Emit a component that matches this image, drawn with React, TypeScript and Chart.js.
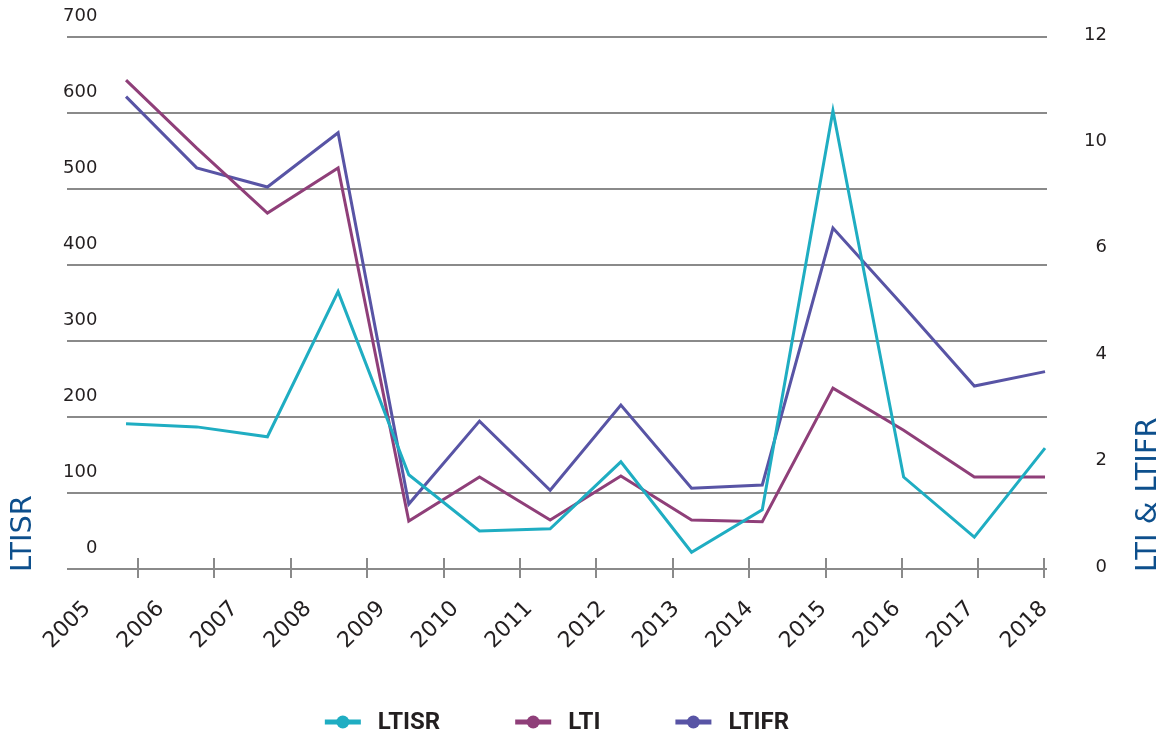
import React, { useEffect, useRef } from "react";
import { Chart, registerables } from "chart.js";

Chart.register(...registerables);

// ---- data ----
const years = ["2005", "2006", "2007", "2008", "2009", "2010", "2011", "2012", "2013", "2014", "2015", "2016", "2017", "2018"];
const ltisr = [191, 187, 174, 365, 124, 50, 53, 141, 22, 78, 603, 121, 42, 159];
const lti = [9.19, 7.91, 6.69, 7.54, 0.9, 1.73, 0.92, 1.75, 0.92, 0.89, 3.4, 2.61, 1.73, 1.73];
const ltifr = [8.88, 7.54, 7.18, 8.2, 1.22, 2.78, 1.48, 3.08, 1.52, 1.58, 6.41, 4.94, 3.44, 3.71];
const rightTickLabels = ["0", "2", "4", "6", "10", "12"];
const axisTickMarks = [1, 2, 3, 4, 5, 6, 7, 8, 9, 10, 11, 12, 12.86];
const leftTitle = "LTISR";
const rightTitle = "LTI & LTIFR";

const C_LTISR = "#1fadc2";
const C_LTI = "#8f3f79";
const C_LTIFR = "#5854a5";
const GRID = "#8a8a8a";
const TEXT = "#231f20";
const TITLE = "#0d4f8c";

const fitTo = (size: number) => (s: any) => {
  if (s.isHorizontal()) s.height = size;
  else s.width = size;
  s.paddingTop = 0;
  s.paddingBottom = 0;
  s.paddingLeft = 0;
  s.paddingRight = 0;
};

const decorPlugin = {
  id: "decor",
  beforeDatasetsDraw(chart: any) {
    const ctx = chart.ctx;
    const sc = chart.scales.xTicks;
    const base = chart.chartArea.bottom;
    ctx.save();
    ctx.strokeStyle = GRID;
    ctx.lineWidth = 2;
    sc.ticks.forEach((t: any) => {
      const x = Math.round(sc.getPixelForValue(t.value));
      ctx.beginPath();
      ctx.moveTo(x, base - 11);
      ctx.lineTo(x, base + 9);
      ctx.stroke();
    });
    ctx.restore();
  },
  afterDraw(chart: any) {
    const ctx = chart.ctx;
    const area = chart.chartArea;
    ctx.save();
    // axis titles, reading bottom to top
    ctx.font = "29px 'DejaVu Sans'";
    ctx.fillStyle = TITLE;
    ctx.textBaseline = "middle";
    ctx.textAlign = "left";
    [[23, leftTitle], [1148, rightTitle]].forEach(([x, t]: any) => {
      ctx.save();
      ctx.translate(x, area.bottom + 3);
      ctx.rotate(-Math.PI / 2);
      ctx.fillText(t, 0, 0);
      ctx.restore();
    });
    // legend
    const ds = chart.data.datasets;
    ctx.font = "bold 24px Roboto";
    const markerW = 36;
    const gapText = 17;
    const gapItem = 75;
    const widths = ds.map((d: any) => markerW + gapText + ctx.measureText(d.label).width);
    const total = widths.reduce((a: number, b: number) => a + b, 0) + gapItem * (ds.length - 1);
    let x = (area.left + area.right) / 2 - total / 2;
    const y = 722;
    ds.forEach((d: any, i: number) => {
      ctx.strokeStyle = d.borderColor;
      ctx.fillStyle = d.borderColor;
      ctx.lineWidth = 5;
      ctx.beginPath();
      ctx.moveTo(x, y);
      ctx.lineTo(x + markerW, y);
      ctx.stroke();
      ctx.beginPath();
      ctx.arc(x + markerW / 2, y, 6.5, 0, Math.PI * 2);
      ctx.fill();
      ctx.fillStyle = TEXT;
      ctx.textAlign = "left";
      ctx.textBaseline = "middle";
      ctx.fillText(d.label, x + markerW + gapText, y + 1);
      x += widths[i] + gapItem;
    });
    ctx.restore();
  },
};

export default function App() {
  const ref = useRef<HTMLCanvasElement>(null);
  useEffect(() => {
    if (!ref.current) return;
    const pts = (arr: number[]) => arr.map((v, i) => ({ x: i, y: v }));
    const lineDs = (label: string, data: number[], color: string, yAxisID: string) => ({
      label,
      data: pts(data),
      borderColor: color,
      backgroundColor: color,
      borderWidth: 3,
      pointRadius: 0,
      tension: 0,
      xAxisID: "x",
      yAxisID,
    });
    const chart = new Chart(ref.current, {
      type: "line",
      data: {
        datasets: [
          lineDs("LTISR", ltisr, C_LTISR, "y"),
          lineDs("LTI", lti, C_LTI, "y1"),
          lineDs("LTIFR", ltifr, C_LTIFR, "y1"),
        ],
      },
      options: {
        animation: false,
        responsive: false,
        devicePixelRatio: 1,
        layout: { padding: { left: 67, right: 59, top: 37, bottom: 0 } },
        plugins: { legend: { display: false }, tooltip: { enabled: false } },
        scales: {
          x: {
            type: "linear",
            display: false,
            min: -0.835,
            max: 13.028,
            afterFit: fitTo(0),
          },
          xTicks: {
            type: "linear",
            position: "bottom",
            min: 0.0707,
            max: 12.898,
            afterBuildTicks: (s: any) => {
              s.ticks = axisTickMarks.map((v) => ({ value: v }));
            },
            grid: { display: false },
            border: { display: false },
            ticks: { display: false },
            afterFit: fitTo(0),
          },
          xLabels: {
            type: "linear",
            position: "bottom",
            min: -0.276,
            max: 13.037,
            afterBuildTicks: (s: any) => {
              s.ticks = years.map((_, i) => ({ value: i }));
            },
            grid: { display: false, drawTicks: false },
            border: { display: false },
            ticks: {
              autoSkip: false,
              minRotation: 45,
              maxRotation: 45,
              padding: 27,
              color: TEXT,
              font: { family: "'DejaVu Sans'", size: 22 },
              callback: (_v: any, i: number) => years[i],
            },
            afterFit: fitTo(170),
          },
          y: {
            type: "linear",
            position: "left",
            min: 0,
            max: 700,
            ticks: {
              stepSize: 100,
              mirror: true,
              crossAlign: "far",
              padding: -4,
              labelOffset: -21,
              color: TEXT,
              font: { family: "'DejaVu Sans'", size: 18 },
            },
            grid: { color: GRID, lineWidth: 2, drawTicks: false },
            border: { display: false },
            afterFit: fitTo(0),
          },
          y1: {
            type: "linear",
            position: "right",
            min: 0,
            max: 10,
            ticks: {
              stepSize: 2,
              padding: 0,
              crossAlign: "far",
              labelOffset: -2,
              color: TEXT,
              font: { family: "'DejaVu Sans'", size: 18 },
              callback: (_v: any, i: number) => rightTickLabels[i],
            },
            grid: { display: false, drawTicks: false },
            border: { display: false },
            afterFit: fitTo(60),
          },
        },
      } as any,
      plugins: [decorPlugin],
    });
    return () => chart.destroy();
  }, []);
  return (
    <div style={{ position: "fixed", left: 0, top: 0, width: 1166, height: 739, background: "#fff" }}>
      <canvas ref={ref} width={1166} height={739} style={{ width: 1166, height: 739, display: "block" }} />
    </div>
  );
}
